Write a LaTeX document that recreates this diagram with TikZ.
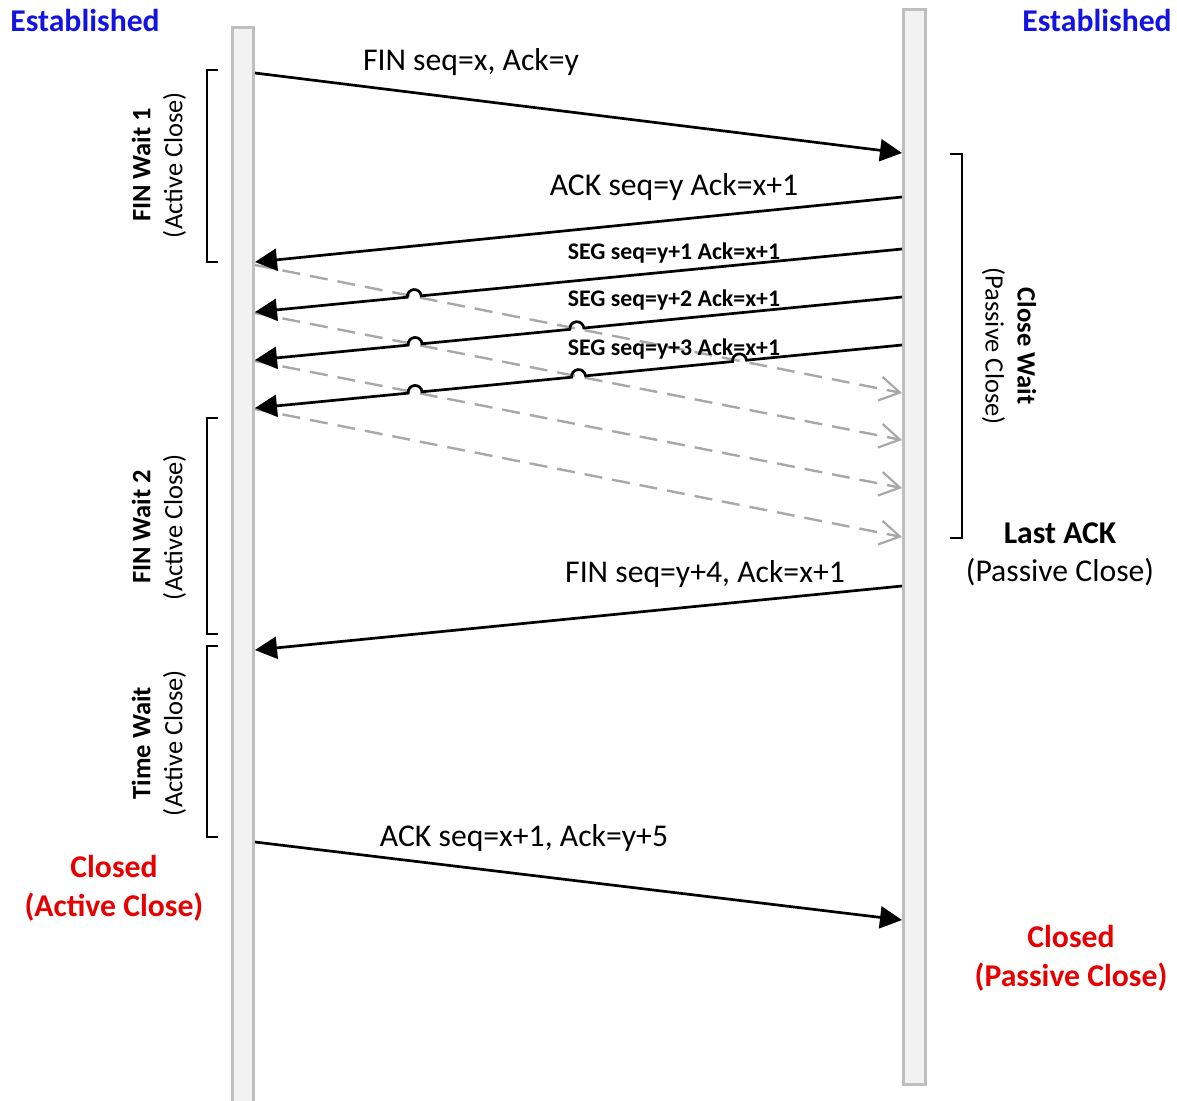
\documentclass[tikz,border=0pt]{standalone}
\usepackage{fontspec}
\setmainfont{Carlito}
\usetikzlibrary{arrows.meta,calc}
\definecolor{estblue}{RGB}{20,20,225}
\definecolor{closedred}{RGB}{230,0,0}
\definecolor{barfill}{RGB}{242,242,242}
\definecolor{barline}{RGB}{191,191,191}
\definecolor{retx}{RGB}{168,168,168}

\begin{document}
\begin{tikzpicture}[x=1pt,y=1pt,
  lifeline/.style={fill=barfill,draw=barline,line width=3pt},
  msg/.style={line width=2.7pt,-{Triangle[length=22pt,width=22pt]}},
  resend/.style={retx,line width=2.4pt,dash pattern=on 18pt off 10pt,
    -{Straight Barb[length=20pt,width=24pt,line width=2.2pt]}},
  bracket/.style={line width=1.7pt},
  lbl/.style={font=\fontsize{31.7}{38}\selectfont,inner sep=0pt,align=center},
  seglbl/.style={font=\fontsize{23.8}{28}\selectfont\bfseries,inner sep=0pt},
  state/.style={font=\fontsize{26.5}{32}\selectfont,align=center,inner sep=0pt},
]
\useasboundingbox (0,0) rectangle (1177,-1100);

% lifelines of the two hosts
\draw[lifeline] (232.5,-27.5) rectangle (253.5,-1110);
\draw[lifeline] (903.5,-9.5) rectangle (925,-1084);

% endpoints on the lifelines
\coordinate (A1) at (255,-73);  \coordinate (B1) at (902,-153);
\coordinate (B2) at (902,-197); \coordinate (A2) at (255,-262);
\coordinate (B3) at (902,-249); \coordinate (A3) at (255,-312);
\coordinate (B4) at (902,-297); \coordinate (A4) at (255,-360);
\coordinate (B5) at (902,-345); \coordinate (A5) at (255,-408);
\coordinate (D1s) at (255,-265); \coordinate (D1e) at (902,-393);
\coordinate (D2s) at (255,-313); \coordinate (D2e) at (902,-440);
\coordinate (D3s) at (255,-361); \coordinate (D3e) at (902,-488);
\coordinate (D4s) at (255,-409); \coordinate (D4e) at (902,-537);
\coordinate (B6) at (902,-586); \coordinate (A6) at (255,-650);
\coordinate (A7) at (255,-842); \coordinate (B7) at (902,-920);

% crossings of data segments with the returning ACKs
\coordinate (X31) at (intersection of B3--A3 and D1s--D1e);
\coordinate (X41) at (intersection of B4--A4 and D1s--D1e);
\coordinate (X42) at (intersection of B4--A4 and D2s--D2e);
\coordinate (X51) at (intersection of B5--A5 and D1s--D1e);
\coordinate (X52) at (intersection of B5--A5 and D2s--D2e);
\coordinate (X53) at (intersection of B5--A5 and D3s--D3e);

% dashed acknowledgements
\draw[resend] (D1s) -- (D1e);
\draw[resend] (D2s) -- (D2e);
\draw[resend] (D3s) -- (D3e);
\draw[resend] (D4s) -- (D4e);

% messages
\draw[msg] (A1) -- (B1);
\draw[msg] (B2) -- (A2);
\def\hopang{5.56}
\def\hopr{7}
\draw[msg] (B3) -- ($(X31)!\hopr pt!(B3)$) arc[start angle=\hopang,delta angle=180,radius=\hopr] -- (A3);
\draw[msg] (B4) -- ($(X41)!\hopr pt!(B4)$) arc[start angle=\hopang,delta angle=180,radius=\hopr]
  -- ($(X42)!\hopr pt!(B4)$) arc[start angle=\hopang,delta angle=180,radius=\hopr] -- (A4);
\draw[msg] (B5) -- ($(X51)!\hopr pt!(B5)$) arc[start angle=\hopang,delta angle=180,radius=\hopr]
  -- ($(X52)!\hopr pt!(B5)$) arc[start angle=\hopang,delta angle=180,radius=\hopr]
  -- ($(X53)!\hopr pt!(B5)$) arc[start angle=\hopang,delta angle=180,radius=\hopr] -- (A5);
\draw[msg] (B6) -- (A6);
\draw[msg] (A7) -- (B7);

% message labels
\node[lbl] (m1) at (471,-62) {FIN seq=x, Ack=y};
\node[lbl] (m2) at (674,-187) {ACK seq=y Ack=x+1};
\node[seglbl] (m3) at (674,-253) {SEG seq=y+1 Ack=x+1};
\node[seglbl] (m4) at (674,-300) {SEG seq=y+2 Ack=x+1};
\node[seglbl] (m5) at (674,-349) {SEG seq=y+3 Ack=x+1};
\node[lbl] (m6) at (705,-574) {FIN seq=y+4, Ack=x+1};
\node[lbl] (m7) at (524,-838) {ACK seq=x+1, Ack=y+5};

% state brackets
\draw[bracket] (218,-70) -| (207,-262) -- (218,-262);
\draw[bracket] (218,-418) -| (207,-634) -- (218,-634);
\draw[bracket] (218,-646) -| (207,-837) -- (218,-837);
\draw[bracket] (950,-154) -| (962,-538) -- (950,-538);

% state names
\node[state,rotate=90] (s1) at (159,-165) {\textbf{FIN Wait 1}\\(Active Close)};
\node[state,rotate=90] (s2) at (159,-527) {\textbf{FIN Wait 2}\\(Active Close)};
\node[state,rotate=90] (s3) at (159,-743) {\textbf{Time Wait}\\(Active Close)};
\node[state,rotate=-90] (s4) at (1009,-346) {\textbf{Close Wait}\\(Passive Close)};
\node[lbl] (s5) at (1060,-554) {\textbf{Last ACK}\\(Passive Close)};

\node[lbl,text=estblue,font=\fontsize{31.7}{38}\selectfont\bfseries] (e1) at (85,-20) {Established};
\node[lbl,text=estblue,font=\fontsize{31.7}{38}\selectfont\bfseries] (e2) at (1097,-20) {Established};
\node[lbl,text=closedred,font=\fontsize{31.7}{39}\selectfont\bfseries] (c1) at (114,-888) {Closed\\(Active Close)};
\node[lbl,text=closedred,font=\fontsize{31.7}{39}\selectfont\bfseries] (c2) at (1071,-958) {Closed\\(Passive Close)};
\end{tikzpicture}
\end{document}
